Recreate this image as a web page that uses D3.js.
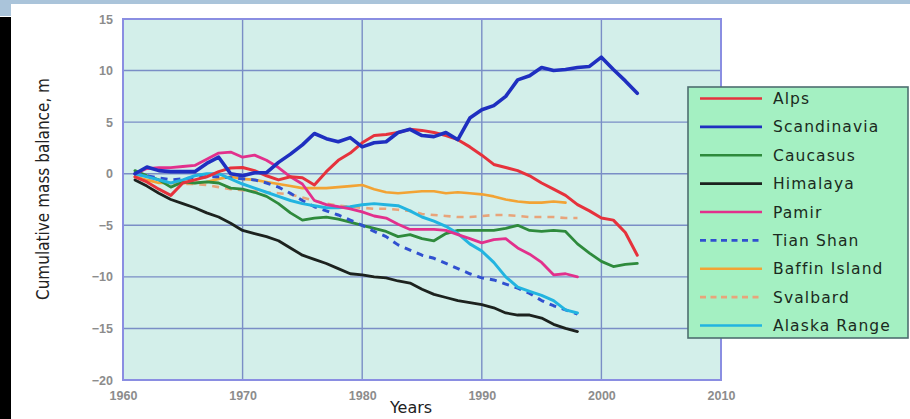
<!DOCTYPE html>
<html>
<head>
<meta charset="utf-8">
<script src="https://cdn.jsdelivr.net/npm/d3@7"></script>
<style>
  html, body { margin: 0; padding: 0; background: #ffffff; }
  svg { display: block; }
</style>
</head>
<body>
<svg id="chart" width="910" height="419"></svg>
<script>
// ---- data: cumulative mass balance (m) by glacier region ----
const years = [1961,1962,1963,1964,1965,1966,1967,1968,1969,1970,
               1971,1972,1973,1974,1975,1976,1977,1978,1979,1980,
               1981,1982,1983,1984,1985,1986,1987,1988,1989,1990,
               1991,1992,1993,1994,1995,1996,1997,1998,1999,2000,
               2001,2002,2003];

const alps = [-0.3,-0.8,-1.5,-2.1,-0.9,-0.6,-0.3,0.2,0.55,0.6,
              0.3,-0.2,-0.6,-0.3,-0.4,-1.1,0.2,1.3,2.0,3.0,
              3.7,3.8,4.0,4.3,4.2,4.0,3.7,3.3,2.6,1.8,
              0.9,0.6,0.3,-0.2,-0.9,-1.5,-2.1,-3.0,-3.6,-4.3,
              -4.5,-5.7,-7.9];
const scandinavia = [0.0,0.65,0.3,0.2,0.2,0.2,1.0,1.6,0.0,-0.2,
                     0.1,0.1,1.1,1.9,2.8,3.9,3.4,3.1,3.5,2.6,
                     3.0,3.1,4.0,4.3,3.7,3.6,4.0,3.3,5.4,6.2,
                     6.6,7.5,9.1,9.5,10.3,10.0,10.1,10.3,10.4,11.3,
                     10.1,9.0,7.8];
const caucasus = [0.3,-0.2,-0.6,-1.3,-0.8,-0.9,-0.8,-0.9,-1.4,-1.5,
                  -1.8,-2.2,-2.9,-3.8,-4.5,-4.3,-4.2,-4.4,-4.7,-5.0,
                  -5.3,-5.6,-6.1,-5.9,-6.3,-6.5,-5.8,-5.5,-5.5,-5.5,
                  -5.5,-5.3,-5.0,-5.5,-5.6,-5.5,-5.6,-6.8,-7.7,-8.5,
                  -9.0,-8.8,-8.7];
const himalaya = [-0.6,-1.2,-1.9,-2.5,-2.9,-3.3,-3.8,-4.2,-4.8,-5.5,
                  -5.8,-6.1,-6.5,-7.2,-7.9,-8.3,-8.7,-9.2,-9.7,-9.8,
                  -10.0,-10.1,-10.4,-10.6,-11.2,-11.7,-12.0,-12.3,-12.5,-12.7,
                  -13.0,-13.5,-13.7,-13.7,-14.0,-14.6,-15.0,-15.3];
const pamir = [0.0,0.5,0.6,0.6,0.7,0.8,1.4,2.0,2.1,1.6,
               1.8,1.3,0.6,-0.3,-1.0,-2.6,-3.0,-3.2,-3.4,-3.7,
               -4.1,-4.3,-4.9,-5.4,-5.4,-5.4,-5.5,-5.9,-6.3,-6.7,
               -6.4,-6.3,-7.2,-7.8,-8.6,-9.8,-9.7,-10.0];
const tianShan = [0.0,-0.2,-0.4,-0.6,-0.5,-0.4,-0.3,-0.3,-0.4,-0.5,
                  -0.6,-0.9,-1.3,-1.9,-2.6,-3.2,-3.6,-4.0,-4.5,-5.0,
                  -5.6,-6.1,-6.9,-7.4,-7.9,-8.2,-8.7,-9.2,-9.7,-10.1,
                  -10.3,-10.7,-11.1,-11.6,-12.3,-12.8,-13.2,-13.6];
const baffinIsland = [-0.3,-0.6,-0.9,-0.9,-0.9,-0.9,-0.8,-0.5,-0.3,-0.5,
                      -0.6,-0.8,-1.0,-1.2,-1.4,-1.4,-1.4,-1.3,-1.2,-1.1,
                      -1.5,-1.8,-1.9,-1.8,-1.7,-1.7,-1.9,-1.8,-1.9,-2.0,
                      -2.2,-2.5,-2.7,-2.8,-2.8,-2.7,-2.8];
const svalbard = [-0.3,-0.6,-0.8,-0.9,-1.0,-1.0,-1.1,-1.3,-1.5,-1.6,
                  -1.7,-1.8,-1.9,-2.0,-2.3,-2.6,-2.9,-3.1,-3.2,-3.3,
                  -3.4,-3.4,-3.5,-3.6,-3.9,-4.0,-4.1,-4.2,-4.2,-4.1,
                  -4.0,-4.0,-4.1,-4.2,-4.2,-4.2,-4.3,-4.3];
const alaskaRange = [0.0,-0.3,-0.6,-0.9,-0.6,-0.2,0.0,0.0,-0.5,-1.0,
                     -1.4,-1.8,-2.2,-2.6,-2.9,-3.1,-3.3,-3.3,-3.2,-3.0,
                     -2.9,-3.0,-3.1,-3.6,-4.2,-4.6,-5.1,-5.8,-6.8,-7.5,
                     -8.6,-10.0,-11.0,-11.4,-11.8,-12.3,-13.2,-13.5];

const seriesNames = ["Alps","Scandinavia","Caucasus","Himalaya","Pamir",
                     "Tian Shan","Baffin Island","Svalbard","Alaska Range"];
const seriesValues = [alps, scandinavia, caucasus, himalaya, pamir,
                      tianShan, baffinIsland, svalbard, alaskaRange];

const xTicks = [1960,1970,1980,1990,2000,2010];
const yTicks = [15,10,5,0,-5,-10,-15,-20];

// ---- styling ----
const seriesStyle = {
  "Alps":          {color: "#e6323c", width: 3,   dash: null},
  "Scandinavia":   {color: "#1f2fc0", width: 3.6, dash: null},
  "Caucasus":      {color: "#2e8a3c", width: 2.8, dash: null},
  "Himalaya":      {color: "#1c221e", width: 2.8, dash: null},
  "Pamir":         {color: "#e2308c", width: 2.8, dash: null},
  "Tian Shan":     {color: "#3050d0", width: 3,   dash: "7,6"},
  "Baffin Island": {color: "#f2a334", width: 2.6, dash: null},
  "Svalbard":      {color: "#e8a47a", width: 2.6, dash: "7,6"},
  "Alaska Range":  {color: "#22b4e0", width: 3,   dash: null}
};
// draw order (back to front)
const drawOrder = ["Svalbard","Baffin Island","Himalaya","Caucasus","Tian Shan",
                   "Alaska Range","Pamir","Alps","Scandinavia"];

const svg = d3.select("#chart");

// page decorations
svg.append("rect").attr("x", 0).attr("y", 0).attr("width", 910).attr("height", 4)
  .attr("fill", "#aac4da");
svg.append("rect").attr("x", 0).attr("y", 0).attr("width", 11).attr("height", 16)
  .attr("fill", "#aac4da");
svg.append("rect").attr("x", 0).attr("y", 17).attr("width", 11).attr("height", 402)
  .attr("fill", "#000000");

const plot = {left: 123, right: 721, top: 19, bottom: 380};

const x = d3.scaleLinear().domain([1960, 2010]).range([plot.left, plot.right]);
const y = d3.scaleLinear().domain([-20, 15]).range([plot.bottom, plot.top]);

// plot background
svg.append("rect")
  .attr("x", plot.left).attr("y", plot.top)
  .attr("width", plot.right - plot.left).attr("height", plot.bottom - plot.top)
  .attr("fill", "#d3efea");

// grid
const grid = svg.append("g").attr("stroke", "#7a8ec6").attr("stroke-width", 1.4);
grid.selectAll("line.v").data(xTicks.slice(1, -1)).join("line")
  .attr("x1", d => x(d)).attr("x2", d => x(d))
  .attr("y1", plot.top).attr("y2", plot.bottom);
grid.selectAll("line.h").data(yTicks.slice(1, -1)).join("line")
  .attr("x1", plot.left).attr("x2", plot.right)
  .attr("y1", d => y(d)).attr("y2", d => y(d));

// series lines
const line = d3.line().x(d => x(d[0])).y(d => y(d[1]));
const linesG = svg.append("g").attr("fill", "none")
  .attr("stroke-linejoin", "round").attr("stroke-linecap", "round");
drawOrder.forEach(name => {
  const i = seriesNames.indexOf(name);
  const vals = seriesValues[i];
  const pts = vals.map((v, k) => [years[k], v]);
  const st = seriesStyle[name];
  linesG.append("path")
    .datum(pts)
    .attr("d", line)
    .attr("stroke", st.color)
    .attr("stroke-width", st.width)
    .attr("stroke-dasharray", st.dash)
    .attr("stroke-linecap", st.dash ? "butt" : "round");
});

// plot frame
svg.append("rect")
  .attr("x", plot.left).attr("y", plot.top)
  .attr("width", plot.right - plot.left).attr("height", plot.bottom - plot.top)
  .attr("fill", "none").attr("stroke", "#8a8ee2").attr("stroke-width", 2);

// axes
const yAxis = d3.axisLeft(y).tickValues(yTicks).tickSize(0).tickPadding(10);
const xAxis = d3.axisBottom(x).tickValues(xTicks).tickSize(0).tickPadding(11)
  .tickFormat(d3.format("d"));

const yG = svg.append("g").attr("transform", `translate(${plot.left},0)`).call(yAxis);
const xG = svg.append("g").attr("transform", `translate(0,${plot.bottom})`).call(xAxis);
[yG, xG].forEach(g => {
  g.select(".domain").remove();
  g.selectAll("text")
    .attr("fill", "#8c8c8c")
    .attr("font-family", "Liberation Sans, Arial, sans-serif")
    .attr("font-weight", "bold")
    .attr("font-size", 12.5);
});

// axis titles
svg.append("text")
  .attr("transform", "translate(49,189) rotate(-90)")
  .attr("text-anchor", "middle")
  .attr("font-family", "DejaVu Sans, sans-serif")
  .attr("font-size", 17)
  .attr("fill", "#222")
  .attr("textLength", 222)
  .attr("lengthAdjust", "spacingAndGlyphs")
  .text("Cumulative mass balance, m");

svg.append("text")
  .attr("x", 411).attr("y", 413)
  .attr("text-anchor", "middle")
  .attr("font-family", "DejaVu Sans, sans-serif")
  .attr("font-size", 16)
  .attr("fill", "#222")
  .text("Years");

// legend
const legend = svg.append("g");
legend.append("rect")
  .attr("x", 688).attr("y", 87).attr("width", 220).attr("height", 251)
  .attr("fill", "#a4f0c2").attr("stroke", "#4e6e70").attr("stroke-width", 1.6);

const rowY = d3.scalePoint().domain(seriesNames).range([98.5, 325.5]);
seriesNames.forEach(name => {
  const st = seriesStyle[name];
  const yy = rowY(name);
  legend.append("line")
    .attr("x1", 700).attr("x2", 762).attr("y1", yy).attr("y2", yy)
    .attr("stroke", st.color).attr("stroke-width", 2.6)
    .attr("stroke-dasharray", st.dash ? "6,4.5" : null);
  legend.append("text")
    .attr("x", 773).attr("y", yy + 5.5)
    .attr("font-family", "DejaVu Sans, sans-serif")
    .attr("font-size", 15.5)
    .attr("letter-spacing", 1.1)
    .attr("fill", "#1a2a20")
    .text(name);
});
</script>
</body>
</html>
